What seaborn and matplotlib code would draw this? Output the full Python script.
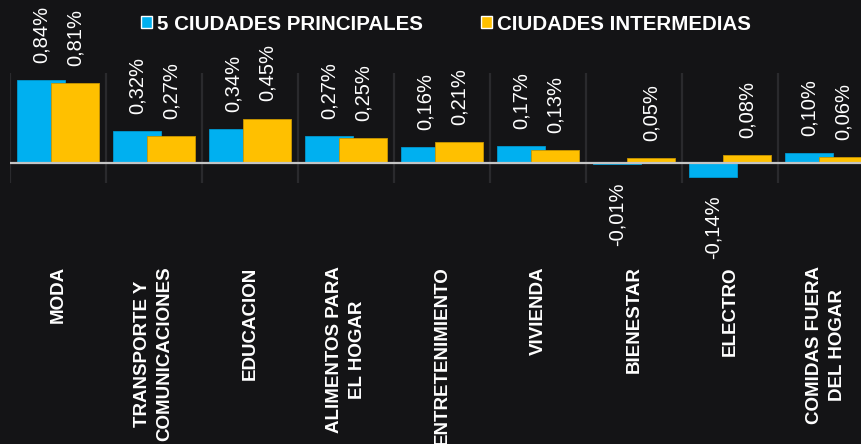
"""
Variacion por categoria — 5 ciudades principales vs ciudades intermedias.
Bar chart on a dark background, values written above/below each bar.
"""

import matplotlib
matplotlib.use("Agg")
import matplotlib.pyplot as plt
from matplotlib.patches import Patch
import numpy as np
import seaborn as sns

# ---------------------------------------------------------------------------
# Data
# ---------------------------------------------------------------------------
CATEGORIES = [
    "MODA",
    "TRANSPORTE Y\nCOMUNICACIONES",
    "EDUCACION",
    "ALIMENTOS PARA\nEL HOGAR",
    "ENTRETENIMIENTO",
    "VIVIENDA",
    "BIENESTAR",
    "ELECTRO",
    "COMIDAS FUERA\nDEL HOGAR",
]
PRINCIPALES = [0.84, 0.32, 0.34, 0.27, 0.16, 0.17, -0.01, -0.14, 0.10]
INTERMEDIAS = [0.81, 0.27, 0.45, 0.25, 0.21, 0.13, 0.05, 0.08, 0.06]
SERIES_NAMES = ["5 CIUDADES PRINCIPALES", "CIUDADES INTERMEDIAS"]

# ---------------------------------------------------------------------------
# Style
# ---------------------------------------------------------------------------
BG = "#141416"
BLUE = "#00B0F0"
YELLOW = "#FFC000"
SEP = "#2a2a2d"
ZERO = "#c4c4c4"
FONT = ["Liberation Sans", "DejaVu Sans"]

W, H, DPI = 862, 444, 100
OFFSET = 0.177   # dodge of each series from category centre
BAR_W = 0.5


def fmt(v: float) -> str:
    return f"{v:.2f}".replace(".", ",") + "%"


def label_bars(ax, xs, vals) -> None:
    for x, v in zip(xs, vals):
        ax.annotate(
            fmt(v), (x, v), xytext=(0, 12.5 if v >= 0 else -13),
            textcoords="offset points", rotation=90, ha="center",
            va="bottom" if v >= 0 else "top", color="white",
            fontsize=14.5, annotation_clip=False,
        )


def main() -> None:
    sns.set_theme(style="dark")
    plt.rcParams["font.family"] = FONT

    fig = plt.figure(figsize=(W / DPI, H / DPI), dpi=DPI, facecolor=BG)
    ax = fig.add_axes([10 / W, 1 - 183 / H, 852 / W, 110 / H])
    ax.set_facecolor(BG)

    pos = np.arange(len(CATEGORIES))
    x_blue = pos - OFFSET
    x_yel = pos + OFFSET

    sns.barplot(x=x_blue, y=PRINCIPALES, native_scale=True, width=BAR_W,
                color=BLUE, saturation=1, errorbar=None, ax=ax,
                edgecolor="#0098d0", linewidth=0.6)
    sns.barplot(x=x_yel, y=INTERMEDIAS, native_scale=True, width=BAR_W,
                color=YELLOW, saturation=1, errorbar=None, ax=ax,
                edgecolor="#c99600", linewidth=0.6)

    ax.set_xlim(-0.5, -0.5 + 852 / 96)
    ax.set_ylim(-0.20, 0.91)

    # category separators and zero line
    ax.vlines(np.arange(len(CATEGORIES) + 1) - 0.5, -0.20, 0.91,
              color=SEP, lw=1.6, zorder=0)
    ax.axhline(0, color=ZERO, lw=1.6, zorder=3)

    label_bars(ax, x_blue, PRINCIPALES)
    label_bars(ax, x_yel, INTERMEDIAS)

    ax.set_xticks(pos)
    ax.set_xticklabels(CATEGORIES, rotation=90, ha="center", va="top",
                       multialignment="center", fontweight="bold",
                       fontsize=13.5, color="white", linespacing=1.4)
    ax.tick_params(axis="x", length=0, pad=60)
    ax.set_yticks([])
    ax.set_xlabel("")
    ax.set_ylabel("")
    ax.grid(False)
    for s in ax.spines.values():
        s.set_visible(False)

    handles = [Patch(facecolor=BLUE), Patch(facecolor=YELLOW)]
    leg = fig.legend(handles, SERIES_NAMES, loc="center", ncol=2,
                     bbox_to_anchor=(446 / W, 1 - 24 / H), frameon=False,
                     handlelength=0.55, handleheight=0.55, handletextpad=0.25,
                     columnspacing=2.8,
                     prop={"weight": "bold", "size": 14.8, "family": FONT})
    for t in leg.get_texts():
        t.set_color("white")

    fig.savefig("out.png", dpi=DPI, facecolor=BG)
    plt.close(fig)


if __name__ == "__main__":
    main()
